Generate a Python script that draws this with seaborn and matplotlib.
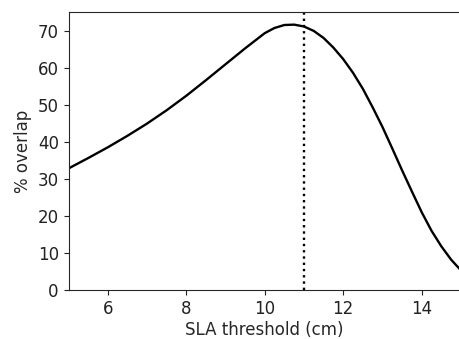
import numpy as np
import matplotlib
matplotlib.use("Agg")
import matplotlib.pyplot as plt
import seaborn as sns
import pandas as pd

# SLA threshold (cm) and % overlap
threshold = [5.0, 5.5, 6.0, 6.5, 7.0, 7.5, 8.0, 8.5, 9.0, 9.5, 10.0, 10.25,
             10.5, 10.75, 11.0, 11.25, 11.5, 11.75, 12.0, 12.25, 12.5, 12.75,
             13.0, 13.25, 13.5, 13.75, 14.0, 14.25, 14.5, 14.75, 15.0]
overlap = [32.8, 35.6, 38.5, 41.6, 44.9, 48.5, 52.4, 56.6, 60.9, 65.2, 69.3, 70.7,
           71.5, 71.6, 71.1, 69.9, 68.0, 65.4, 62.3, 58.6, 54.3, 49.3,
           44.0, 38.2, 32.3, 26.6, 21.0, 16.0, 11.8, 8.2, 5.3]
best_threshold = 11.0

sns.set_style("ticks")
plt.rcParams["font.family"] = ["DejaVu Sans"]

df = pd.DataFrame({"SLA threshold (cm)": threshold, "% overlap": overlap})

fig = plt.figure(figsize=(4.6, 3.39), dpi=100)
ax = fig.add_axes([0.149, 0.1445, 0.853, 0.820])

sns.lineplot(data=df, x="SLA threshold (cm)", y="% overlap", color="black",
             linewidth=1.7, ax=ax)
ax.axvline(best_threshold, color="black", linestyle=":", linewidth=1.7)

ax.set_xlim(5, 15)
ax.set_ylim(0, 75)
ax.set_xticks([6, 8, 10, 12, 14])
ax.set_yticks(range(0, 71, 10))
ax.tick_params(labelsize=12, colors="#222222")
ax.set_xlabel("SLA threshold (cm)", fontsize=12, labelpad=2)
ax.set_ylabel("% overlap", fontsize=12)
ax.spines["right"].set_visible(False)

fig.savefig("out.png", dpi=100)
